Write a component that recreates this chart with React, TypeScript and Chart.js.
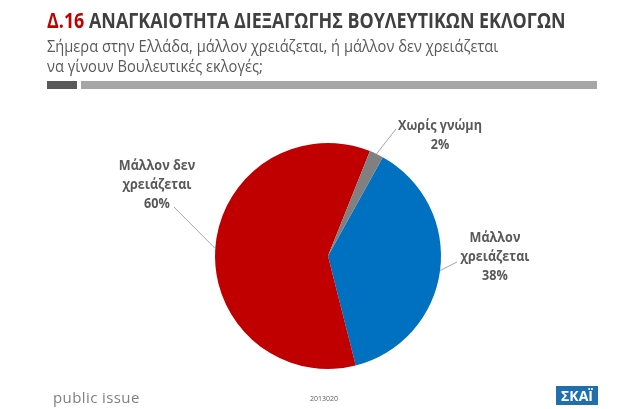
import React, { useEffect, useRef } from "react";
import { Chart, registerables } from "chart.js";

Chart.register(...registerables);

const categories = ["Μάλλον χρειάζεται", "Μάλλον δεν χρειάζεται", "Χωρίς γνώμη"];
const values = [38, 60, 2];
const labelLines = [
  ["Μάλλον", "χρειάζεται", "38%"],
  ["Μάλλον δεν", "χρειάζεται", "60%"],
  ["Χωρίς γνώμη", "2%"],
];
const colors = ["#0070C0", "#C00000", "#808080"];

// label layout relative to pie centre (text centre, leader end)
const labelLayout = [
  { tx: 167, ty: 1, lx: 129, ly: 6 },
  { tx: -171, ty: -71, lx: -154, ly: -49 },
  { tx: 112, ty: -121, lx: 68, ly: -127 },
];

const labelPlugin = {
  id: "pieLabels",
  afterDatasetsDraw(chart: any) {
    const ctx = chart.ctx;
    const meta = chart.getDatasetMeta(0);
    ctx.save();
    meta.data.forEach((arc: any, i: number) => {
      const p = arc.getProps(["x", "y", "startAngle", "endAngle", "outerRadius"], true);
      const mid = (p.startAngle + p.endAngle) / 2;
      const sx = p.x + Math.cos(mid) * p.outerRadius;
      const sy = p.y + Math.sin(mid) * p.outerRadius;
      const L = labelLayout[i];
      ctx.strokeStyle = "#A6A6A6";
      ctx.lineWidth = 1;
      ctx.beginPath();
      ctx.moveTo(sx, sy);
      ctx.lineTo(p.x + L.lx, p.y + L.ly);
      ctx.stroke();
      const lines = labelLines[i];
      ctx.fillStyle = "#595959";
      ctx.font = "bold 15px 'Open Sans', sans-serif";
      ctx.textAlign = "center";
      ctx.textBaseline = "middle";
      const lh = 19;
      const y0 = p.y + L.ty - ((lines.length - 1) * lh) / 2;
      lines.forEach((t, k) => {
        ctx.save();
        ctx.translate(p.x + L.tx, y0 + k * lh);
        ctx.scale(0.84, 1);
        ctx.fillText(t, 0, 0);
        ctx.restore();
      });
    });
    ctx.restore();
  },
};

export default function App() {
  const ref = useRef<HTMLCanvasElement>(null);
  useEffect(() => {
    const chart = new Chart(ref.current!, {
      type: "pie",
      data: {
        labels: categories,
        datasets: [
          {
            data: values,
            backgroundColor: colors,
            borderWidth: 0,
          },
        ],
      },
      options: {
        responsive: false,
        animation: false,
        rotation: 29,
        layout: { padding: { top: 143, bottom: 40, left: 215, right: 198 } },
        plugins: { legend: { display: false }, tooltip: { enabled: false }, title: { display: false } },
      },
      plugins: [labelPlugin],
    });
    return () => chart.destroy();
  }, []);

  const font = "'Open Sans', sans-serif";
  return (
    <div style={{ position: "absolute", left: 0, top: 0, width: 639, height: 409, background: "#fff", overflow: "hidden", fontFamily: font }}>
      <canvas ref={ref} width={639} height={409} style={{ position: "absolute", left: 0, top: 0 }} />
      <div style={{ position: "absolute", left: 47, top: 6, fontSize: 21, fontWeight: 700, color: "#404040", whiteSpace: "nowrap", lineHeight: "28px", transform: "scaleX(0.852)", transformOrigin: "0 0" }}>
        <span style={{ color: "#C00000" }}>Δ.16</span> ΑΝΑΓΚΑΙΟΤΗΤΑ ΔΙΕΞΑΓΩΓΗΣ ΒΟΥΛΕΥΤΙΚΩΝ ΕΚΛΟΓΩΝ
      </div>
      <div style={{ position: "absolute", left: 47, top: 36, fontSize: 17, color: "#595959", whiteSpace: "nowrap", lineHeight: "20px", transform: "scaleX(0.862)", transformOrigin: "0 0" }}>
        Σήμερα στην Ελλάδα, μάλλον χρειάζεται, ή μάλλον δεν χρειάζεται
        <br />
        να γίνουν Βουλευτικές εκλογές;
      </div>
      <div style={{ position: "absolute", left: 47, top: 81, width: 30, height: 8, background: "#595959" }} />
      <div style={{ position: "absolute", left: 81, top: 81, width: 516, height: 8, background: "#A6A6A6" }} />
      <div style={{ position: "absolute", left: 53, top: 387, fontSize: 15, color: "#808080", whiteSpace: "nowrap", lineHeight: "20px", letterSpacing: 0.4 }}>
        public issue
      </div>
      <div style={{ position: "absolute", left: 310, top: 394, fontSize: 7, color: "#595959", whiteSpace: "nowrap", lineHeight: "10px" }}>
        2013020
      </div>
      <div style={{ position: "absolute", left: 556, top: 386, width: 42, height: 19, background: "#1F6FAF", color: "#fff", fontWeight: 700, fontSize: 14, lineHeight: "19px", textAlign: "center" }}>
        ΣΚΑΪ
      </div>
    </div>
  );
}
